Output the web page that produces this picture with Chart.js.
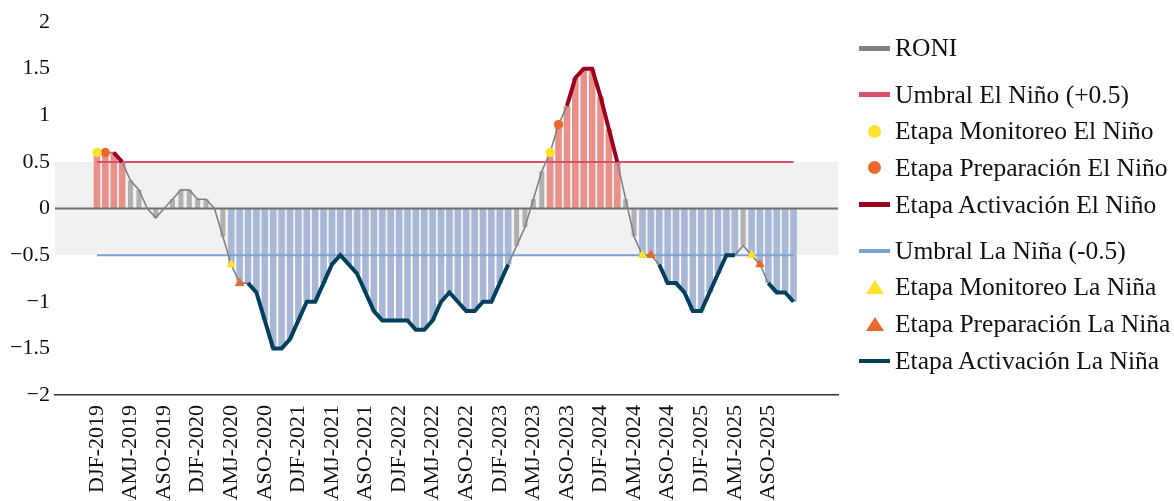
<!DOCTYPE html>
<html lang="es">
<head>
<meta charset="utf-8">
<title>RONI</title>
<script src="https://cdn.jsdelivr.net/npm/chart.js@4.4.1/dist/chart.umd.min.js"></script>
<style>
  html, body { margin: 0; padding: 0; background: #fff; }
  #wrap { position: relative; width: 1174px; height: 501px; }
  #legend {
    position: absolute; left: 859px; top: 30px;
    font-family: 'Liberation Serif', 'Times New Roman', serif;
    font-size: 25.5px; color: #111;
  }
  .row { height: 36.7px; display: flex; align-items: center; white-space: nowrap; }
  .row.gap { margin-top: 9.5px; }
  .sw { width: 31px; margin-right: 5px; display: flex; justify-content: center; align-items: center; }
  .sw .ln { width: 31px; height: 4.5px; }
  .sw .dot { width: 13px; height: 13px; border-radius: 50%; }
  .sw .tri { width: 0; height: 0; border-left: 9px solid transparent; border-right: 9px solid transparent; border-bottom-width: 14px; border-bottom-style: solid; }
</style>
</head>
<body>
<div id="wrap">
  <canvas id="chart" width="1174" height="501"></canvas>
  <div id="legend"></div>
</div>
<script>
/* ===== datos ===== */
const estaciones = ['DJF', 'JFM', 'FMA', 'MAM', 'AMJ', 'MJJ', 'JJA', 'JAS', 'ASO', 'SON', 'OND', 'NDJ'];
const anios      = [2019, 2020, 2021, 2022, 2023, 2024, 2025];
const categorias = anios.flatMap(a => estaciones.map(e => `${e}-${a}`));
const ticksX     = [0, 4, 8, 12, 16, 20, 24, 28, 32, 36, 40, 44, 48, 52, 56, 60, 64, 68, 72, 76, 80];

// índice RONI (DJF-2019 ... NDJ-2025)
const roni = [
   0.6,  0.6,  0.6,  0.5,  0.3,  0.2,  0.0, -0.1,  0.0,  0.1,  0.2,  0.2,
   0.1,  0.1,  0.0, -0.3, -0.6, -0.8, -0.8, -0.9, -1.2, -1.5, -1.5, -1.4,
  -1.2, -1.0, -1.0, -0.8, -0.6, -0.5, -0.6, -0.7, -0.9, -1.1, -1.2, -1.2,
  -1.2, -1.2, -1.3, -1.3, -1.2, -1.0, -0.9, -1.0, -1.1, -1.1, -1.0, -1.0,
  -0.8, -0.6, -0.4, -0.2,  0.1,  0.4,  0.6,  0.9,  1.1,  1.4,  1.5,  1.5,
   1.2,  0.85, 0.5,  0.1, -0.3, -0.5, -0.5, -0.6, -0.8, -0.8, -0.9, -1.1,
  -1.1, -0.9, -0.7, -0.5, -0.5, -0.4, -0.5, -0.6, -0.8, -0.9, -0.9, -1.0
];

const umbralNino = 0.5;
const umbralNina = -0.5;

// etapas (índices de categoría)
const monitoreoNino   = [0, 54];
const preparacionNino = [1, 55];
const activacionNino  = [[2, 3], [56, 62]];
const monitoreoNina   = [16, 65, 78];
const preparacionNina = [17, 66, 79];
const activacionNina  = [[18, 49], [67, 76], [80, 83]];

/* ===== ayudantes ===== */
const puntos  = (filtro) => roni.map((v, i) => ({ x: i, y: filtro(v, i) ? v : null }));
const constante = (c) => roni.map((v, i) => ({ x: i, y: c }));
const enRangos = (rangos) => (v, i) => rangos.some(([a, b]) => i >= a && i <= b);
const serif = "'Liberation Serif', 'Times New Roman', serif";
const fmt = (v) => String(v).replace('-', '\u2212');

/* ===== banda neutral y línea cero ===== */
const bandaNeutral = {
  id: 'bandaNeutral',
  beforeDatasetsDraw(chart) {
    const { ctx, chartArea: a, scales: { y } } = chart;
    const y1 = y.getPixelForValue(umbralNino);
    const y2 = y.getPixelForValue(umbralNina);
    ctx.save();
    ctx.fillStyle = '#f1f1f1';
    ctx.fillRect(a.left, y1, a.right - a.left, y2 - y1);
    ctx.restore();
  },
  beforeDatasetDraw(chart, args) {
    if (chart.data.datasets[args.index].id !== 'umbralNina') return;
    const { ctx, chartArea: a, scales: { y } } = chart;
    const y0 = y.getPixelForValue(0);
    ctx.save();
    ctx.strokeStyle = '#6e6e6e';
    ctx.lineWidth = 1.8;
    ctx.beginPath();
    ctx.moveTo(a.left, y0);
    ctx.lineTo(a.right, y0);
    ctx.stroke();
    ctx.restore();
  }
};

/* ===== gráfico ===== */
const barra = (data, color, pct) => ({
  type: 'bar', data, backgroundColor: color, grouped: false,
  categoryPercentage: 1, barPercentage: pct, order: 6
});
const marcador = (label, idx, color, estilo, r) => ({
  type: 'line', label, data: puntos((v, i) => idx.includes(i)), showLine: false,
  pointStyle: estilo, pointRadius: r, pointBackgroundColor: color, pointBorderWidth: 0,
  borderColor: color, backgroundColor: color, order: 1,
  leyenda: estilo === 'circle' ? 'dot' : 'tri'
});
const linea = (label, data, color, ancho, order, extra = {}) => ({
  type: 'line', label, data, borderColor: color, backgroundColor: color, borderWidth: ancho,
  pointRadius: 0, tension: 0, spanGaps: false, order, leyenda: 'ln', ...extra
});

const chart = new Chart(document.getElementById('chart'), {
  type: 'line',
  data: {
    datasets: [
      linea('RONI', roni.map((v, i) => ({ x: i, y: v })), '#828282', 1.6, 3, { grupo: 0 }),
      linea('Umbral El Niño (+0.5)', constante(umbralNino), '#d9506a', 2, 4, { grupo: 1, id: 'umbralNino' }),
      marcador('Etapa Monitoreo El Niño', monitoreoNino, '#fde12d', 'circle', 4.7),
      marcador('Etapa Preparación El Niño', preparacionNino, '#e8692b', 'circle', 4.7),
      linea('Etapa Activación El Niño', puntos(enRangos(activacionNino)), '#9b0020', 4, 2),
      linea('Umbral La Niña (-0.5)', constante(umbralNina), '#7aa2d0', 2, 5, { grupo: 2, id: 'umbralNina' }),
      marcador('Etapa Monitoreo La Niña', monitoreoNina, '#fde12d', 'triangle', 5.6),
      marcador('Etapa Preparación La Niña', preparacionNina, '#e8692b', 'triangle', 5.6),
      linea('Etapa Activación La Niña', puntos(enRangos(activacionNina)), '#00405c', 4, 2),
      barra(puntos(v => v >= umbralNino), '#e8918a', 0.79),
      barra(puntos(v => v <= umbralNina), '#a9b7d7', 0.79),
      barra(puntos(v => v > umbralNina && v < umbralNino), '#b0b0b0', 0.6)
    ]
  },
  options: {
    responsive: false,
    animation: false,
    devicePixelRatio: 1,
    layout: { padding: { top: 22, right: 336, bottom: 0, left: 0 } },
    plugins: { legend: { display: false }, tooltip: { enabled: false } },
    scales: {
      x: {
        type: 'linear', min: -5, max: 88.3, offset: false,
        grid: { display: false, drawTicks: false },
        border: { display: true, color: '#333', width: 1.5 },
        afterBuildTicks: (s) => { s.ticks = ticksX.map(v => ({ value: v })); },
        afterFit: (s) => { s.height = 106; },
        ticks: {
          autoSkip: false, maxRotation: 90, minRotation: 90, padding: 10,
          color: '#111', font: { family: serif, size: 22 },
          callback: (v) => categorias[v]
        }
      },
      y: {
        min: -2, max: 2,
        grid: { display: false, drawTicks: false },
        border: { display: false },
        afterFit: (s) => { s.width = 55; },
        ticks: {
          stepSize: 0.5, padding: 5, color: '#111',
          font: { family: serif, size: 22 },
          callback: (v) => fmt(v)
        }
      }
    }
  },
  plugins: [bandaNeutral]
});

/* ===== leyenda ===== */
const leyenda = document.getElementById('legend');
chart.data.datasets.filter(d => d.leyenda).forEach(d => {
  const row = document.createElement('div');
  row.className = 'row' + (d.grupo > 0 ? ' gap' : '');
  let sw;
  if (d.leyenda === 'tri') sw = `<div class="tri" style="border-bottom-color:${d.backgroundColor}"></div>`;
  else sw = `<div class="${d.leyenda}" style="background:${d.backgroundColor}"></div>`;
  row.innerHTML = `<div class="sw">${sw}</div><span>${d.label}</span>`;
  leyenda.appendChild(row);
});
</script>
</body>
</html>
